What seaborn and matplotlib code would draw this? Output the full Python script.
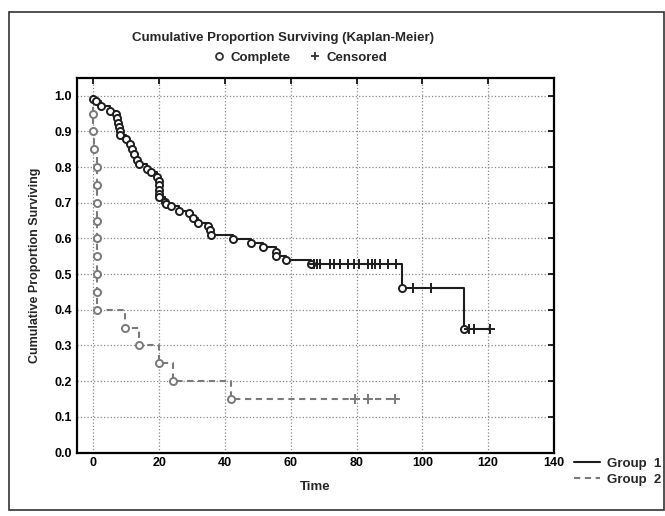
import numpy as np
import pandas as pd
import seaborn as sns
import matplotlib.pyplot as plt
from matplotlib.lines import Line2D
from matplotlib.patches import Rectangle

# group 1: event times (complete) and survival after each event
g1_time = [0, 0.8, 2.2, 5, 6.8, 7.1, 7.4, 7.9, 8.1, 8.1, 9.8, 11.1, 11.6, 12.4, 13.2, 13.9,
           16.2, 17.6, 19.2, 20.0, 20.0, 20.0, 20.0, 20.0, 21.7, 22.0, 23.7, 26.0, 29.2, 30.2,
           31.7, 34.7, 35.3, 35.8, 42.5, 47.9, 51.4, 55.4, 55.4, 58.6, 66.0, 93.7, 112.8]
g1_surv = [0.992, 0.985, 0.970, 0.958, 0.950, 0.937, 0.925, 0.913, 0.900, 0.889, 0.878, 0.866,
           0.852, 0.838, 0.821, 0.808, 0.796, 0.787, 0.771, 0.760, 0.749, 0.737, 0.726, 0.715,
           0.703, 0.697, 0.690, 0.677, 0.670, 0.656, 0.644, 0.635, 0.623, 0.610, 0.598, 0.586,
           0.575, 0.562, 0.550, 0.539, 0.528, 0.460, 0.345]
g1_cens = [67.0, 68.0, 69.0, 72.0, 73.0, 75.0, 77.5, 79.1, 80.6, 83.6, 84.6, 85.6, 87.1,
           89.6, 92.1, 97.2, 102.5, 114.3, 115.8, 120.7]

# group 2
g2_time = [0, 0, 0.3, 1, 1, 1, 1, 1, 1, 1, 1, 1, 9.6, 13.8, 19.9, 24.2, 41.8]
g2_surv = [0.95, 0.90, 0.85, 0.80, 0.75, 0.70, 0.65, 0.60, 0.55, 0.50, 0.45, 0.40,
           0.35, 0.30, 0.25, 0.20, 0.15]
g2_cens = [79.4, 83.4, 91.7]


def km_frames(times, surv, cens):
    ev = pd.DataFrame({'t': times, 's': surv})
    cs = pd.DataFrame({'t': cens})
    cs['s'] = [ev.loc[ev['t'] <= c, 's'].iloc[-1] for c in cens]
    line = pd.concat([pd.DataFrame({'t': [0.0], 's': [1.0]}), ev, cs])
    line = line.sort_values(['t', 's'], ascending=[True, False], kind='stable')
    return ev, cs, line


sns.set_style('white')
plt.rcParams['font.family'] = ['Liberation Sans', 'DejaVu Sans']
plt.rcParams['font.weight'] = 'bold'

fig = plt.figure(figsize=(6.65, 5.16), dpi=100)
ax = fig.add_axes([0.1158, 0.123, 0.7172, 0.726])

styles = [('#1e1e1e', '-'), ('#7a7a7a', (0, (3, 2.2)))]
handles = []
for (times, surv, cens), (col, ls) in zip([(g1_time, g1_surv, g1_cens), (g2_time, g2_surv, g2_cens)], styles):
    ev, cs, line = km_frames(times, surv, cens)
    sns.lineplot(data=line, x='t', y='s', drawstyle='steps-post', estimator=None, sort=False,
                 color=col, linewidth=1.5, linestyle=ls, ax=ax)
    sns.scatterplot(data=ev, x='t', y='s', marker='o', s=26, facecolor='white',
                    edgecolor=col, linewidth=1.4, ax=ax, zorder=3)
    sns.scatterplot(data=cs, x='t', y='s', marker='+', s=45, color=col,
                    linewidth=1.4, ax=ax, zorder=3)
    handles.append(Line2D([], [], color=col, linestyle=ls, linewidth=1.5))

ax.set_xlim(-5, 140)
ax.set_ylim(0, 1.05)
ax.set_xticks(np.arange(0, 141, 20))
ax.set_yticks(np.arange(0, 1.01, 0.1))
ax.set_yticklabels([f'{v:.1f}' for v in np.arange(0, 1.01, 0.1)])
ax.grid(True, color='#888888', linestyle=':', linewidth=0.9)
ax.tick_params(direction='in', length=4, width=1.2, top=True, right=True,
               labelsize=9, colors='black')
for sp in ax.spines.values():
    sp.set_color('black')
    sp.set_linewidth(1.6)
ax.set_xlabel('Time', fontsize=9.5, fontweight='bold', labelpad=8)
ax.set_ylabel('Cumulative Proportion Surviving', fontsize=9, fontweight='bold', labelpad=10)

ax.legend(handles=handles, labels=['Group  1', 'Group  2'], loc='upper left',
          bbox_to_anchor=(1.03, 0.0), frameon=False, fontsize=9.5, handlelength=2.0,
          handletextpad=0.5, labelspacing=0.25, borderaxespad=0)

fig.text(0.425, 1 - 38 / 516, 'Cumulative Proportion Surviving (Kaplan-Meier)',
         ha='center', va='center', fontsize=9.5, fontweight='bold')
mark_handles = [Line2D([], [], marker='o', linestyle='', markerfacecolor='white',
                       markeredgecolor='#333333', markersize=5, markeredgewidth=1.3),
                Line2D([], [], marker='+', linestyle='', color='#333333', markersize=6,
                       markeredgewidth=1.3)]
fig.legend(handles=mark_handles, labels=['Complete', 'Censored'], loc='center',
           bbox_to_anchor=(0.45, 1 - 58 / 516), ncol=2, frameon=False, fontsize=9.5,
           handletextpad=0.3, columnspacing=1.2, handlelength=1.2)

fig.patches.append(Rectangle((9 / 665, 6 / 516), 655 / 665, 498 / 516, transform=fig.transFigure,
                             fill=False, edgecolor='#333333', linewidth=1.2))

fig.savefig('out.png', dpi=100)
